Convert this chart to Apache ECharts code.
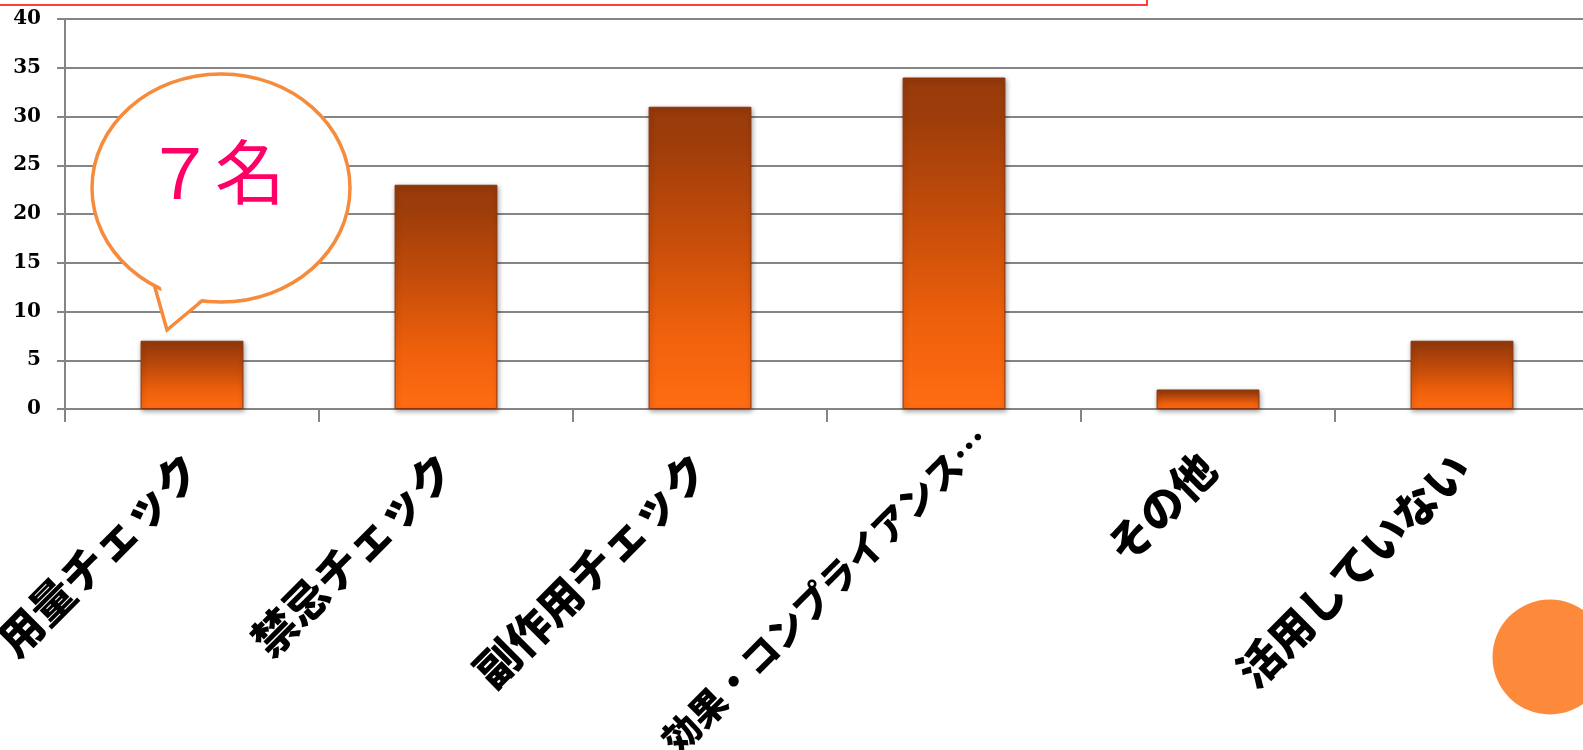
<!DOCTYPE html>
<html>
<head>
<meta charset="utf-8">
<script src="https://cdn.jsdelivr.net/npm/echarts@6/dist/echarts.min.js"></script>
<style>
html,body{margin:0;padding:0;background:#fff;}
#main{width:1583px;height:750px;}
</style>
</head>
<body>
<div id="main"></div>
<script>
var categories = ['用法、用量チェック', '禁忌チェック', '副作用チェック', '効果・コンプライアンス…', 'その他', '活用していない'];
var values = [7, 23, 31, 34, 2, 7];
var yTicks = {min: 0, max: 40, interval: 5};
var calloutText = '７名';

var chart = echarts.init(document.getElementById('main'), null, {renderer: 'canvas'});

var barGradient = new echarts.graphic.LinearGradient(0, 0, 0, 1, [
  {offset: 0, color: '#973A0B'},
  {offset: 0.12, color: '#9E3D0A'},
  {offset: 0.45, color: '#C84E0A'},
  {offset: 0.75, color: '#F0610C'},
  {offset: 1, color: '#FF6C12'}
]);

var bubbleStroke = '#F58B3B';

var categoryData = categories.map(function (name) {
  return name.length > 10 ? {value: name, textStyle: {fontSize: 37, padding: [0, -40, 0, 0]}} : name;
});

var option = {
  backgroundColor: '#ffffff',
  animation: false,
  grid: {left: 65, right: -6, top: 19, bottom: 341, containLabel: false, outerBoundsMode: 'none'},
  xAxis: {
    type: 'category',
    data: categoryData,
    axisLine: {show: true, lineStyle: {color: '#858585', width: 2}},
    axisTick: {show: true, length: 13, lineStyle: {color: '#858585', width: 2}},
    axisLabel: {
      interval: 0,
      rotate: 45,
      margin: 52,
      color: '#000',
      fontFamily: 'Noto Sans CJK JP',
      fontWeight: 900,
      fontSize: 44
    }
  },
  yAxis: {
    type: 'value',
    min: yTicks.min,
    max: yTicks.max,
    interval: yTicks.interval,
    axisLine: {show: true, lineStyle: {color: '#858585', width: 2}},
    axisTick: {show: true, length: 8, lineStyle: {color: '#858585', width: 2}},
    splitLine: {show: true, lineStyle: {color: '#858585', width: 2}},
    axisLabel: {
      margin: 24,
      color: '#000',
      fontFamily: 'DejaVu Serif',
      fontWeight: 'bold',
      fontSize: 20
    }
  },
  series: [{
    type: 'bar',
    data: values,
    barWidth: '40.5%',
    itemStyle: {
      color: barGradient,
      borderColor: '#8A3510',
      borderWidth: 1,
      shadowColor: 'rgba(0,0,0,0.35)',
      shadowBlur: 5,
      shadowOffsetX: 1,
      shadowOffsetY: 2
    }
  }],
  graphic: [
    {
      type: 'rect',
      z: 100,
      shape: {x: -5, y: -60, width: 1152, height: 65},
      style: {fill: '#ffffff', stroke: '#FF0000', lineWidth: 1.5}
    },
    {
      type: 'polygon',
      z: 100,
      shape: {points: [[150, 270], [167, 330], [215, 290]]},
      style: {fill: '#ffffff', stroke: bubbleStroke, lineWidth: 3.5, lineJoin: 'miter'}
    },
    {
      type: 'ellipse',
      z: 101,
      shape: {cx: 221, cy: 188, rx: 129, ry: 114},
      style: {fill: '#ffffff', stroke: bubbleStroke, lineWidth: 3.5}
    },
    {
      type: 'polygon',
      z: 102,
      shape: {points: [[160, 283], [168.5, 322], [203, 298], [190, 282]]},
      style: {fill: '#ffffff'}
    },
    {
      type: 'text',
      z: 103,
      x: 215,
      y: 172,
      style: {
        text: calloutText,
        fill: '#FF0066',
        fontFamily: 'Noto Sans CJK JP',
        fontSize: 70,
        textAlign: 'center',
        textVerticalAlign: 'middle'
      }
    },
    {
      type: 'circle',
      z: 100,
      shape: {cx: 1550, cy: 657, r: 57.5},
      style: {fill: '#FD8A3A'}
    }
  ]
};
chart.setOption(option);
</script>
</body>
</html>
